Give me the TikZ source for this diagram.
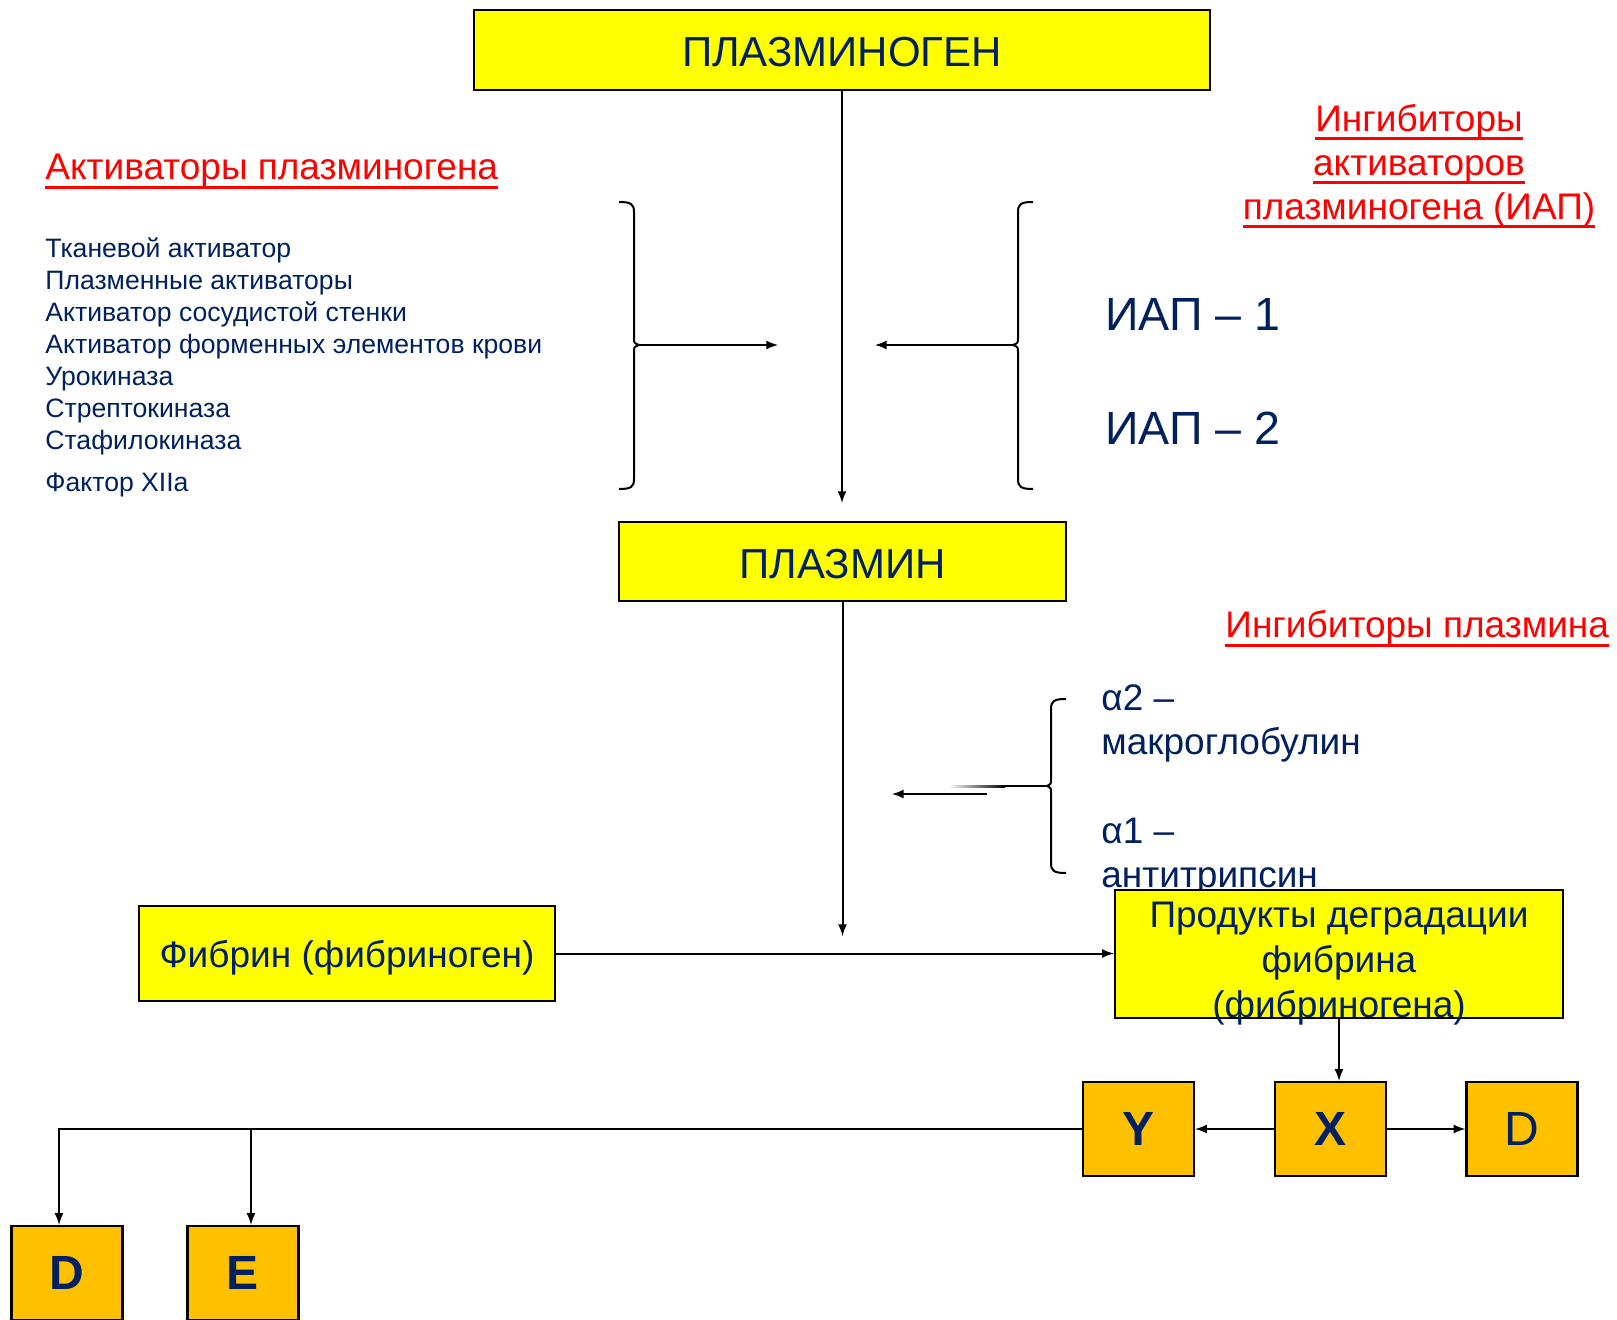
\documentclass[tikz,border=0pt]{standalone}
\usepackage{fontspec}
\setmainfont{Liberation Sans}
\usepackage{tikz}
\usetikzlibrary{arrows}
\definecolor{navy}{RGB}{0,32,96}
\definecolor{boxyellow}{RGB}{255,255,0}
\definecolor{boxorange}{RGB}{255,192,0}
\definecolor{headred}{RGB}{255,0,0}
\newcommand{\redul}[1]{\setbox0=\hbox{#1}\rlap{\rule[-4.5pt]{\wd0}{1.3pt}}\box0}
\tikzstyle{ybox} = [rectangle, draw=black, line width=1.2pt, fill=boxyellow, text=navy, inner sep=0pt]
\tikzstyle{obox} = [rectangle, draw=black, line width=1.2pt, fill=boxorange, text=navy, minimum width=55.5pt, minimum height=47pt, font=\fontsize{24}{28}\selectfont\bfseries]
\tikzstyle{arrow} = [line width=1pt,->,>=latex]
\tikzstyle{brace} = [line width=1pt]
\tikzstyle{listtext} = [anchor=base west, inner sep=0pt, text=navy, font=\fontsize{13.3}{16}\selectfont]
\tikzstyle{redhead} = [inner sep=0pt, text=headred, font=\fontsize{18.5}{22}\selectfont]
\tikzstyle{inhtext} = [anchor=base west, inner sep=0pt, text=navy, font=\fontsize{18.5}{22}\selectfont]

\begin{document}
\begin{tikzpicture}[x=0.5pt, y=-0.5pt]
\useasboundingbox (0,0) rectangle (1617,1320);

% Main chain
\node (plg) [ybox, minimum width=368pt, minimum height=40pt, text height=17pt, text depth=0pt, font=\fontsize{21}{25}\selectfont] at (842,50) {ПЛАЗМИНОГЕН};
\node (plm) [ybox, minimum width=223.5pt, minimum height=39.5pt, text height=17.5pt, text depth=0pt, font=\fontsize{21}{25}\selectfont] at (842.5,561.5) {ПЛАЗМИН};
\coordinate (plgend) at (842,503);
\coordinate (plmend) at (842.5,936);

% Activators
\node (acthead) [redhead, anchor=base west] at (45,180) {\redul{Активаторы плазминогена}};
\node (act1) [listtext] at (45,258) {Тканевой активатор};
\node (act2) [listtext] at (45,290) {Плазменные активаторы};
\node (act3) [listtext] at (45,322) {Активатор сосудистой стенки};
\node (act4) [listtext] at (45,354) {Активатор форменных элементов крови};
\node (act5) [listtext] at (45,386) {Урокиназа};
\node (act6) [listtext] at (45,418) {Стрептокиназа};
\node (act7) [listtext] at (45,450) {Стафилокиназа};
\node (act8) [listtext] at (45,492) {Фактор XIIa};

% Left brace
\draw [brace] (619,202) .. controls (631,202) and (634,204) .. (634,212) -- (634,338) .. controls (634,343) .. (639,345) .. controls (634,347) .. (634,352) -- (634,479) .. controls (634,487) and (631,489) .. (619,489);
\coordinate (ltip) at (639,345);
\coordinate (lend) at (778,345);

% Inhibitors of activators
\node (iaphead) [redhead, align=center] at (1419,166) {\redul{Ингибиторы}\\\redul{активаторов}\\\redul{плазминогена (ИАП)}};
\node (iap1) [inhtext, font=\fontsize{23.3}{28}\selectfont] at (1105,331) {ИАП – 1};
\node (iap2) [inhtext, font=\fontsize{23.3}{28}\selectfont] at (1105,445) {ИАП – 2};
\draw [brace] (1033,202) .. controls (1021,202) and (1018,204) .. (1018,212) -- (1018,338) .. controls (1018,343) .. (1013,345) .. controls (1018,347) .. (1018,352) -- (1018,479) .. controls (1018,487) and (1021,489) .. (1033,489);
\coordinate (rtip) at (1013,345);
\coordinate (rend) at (875,345);

% Plasmin inhibitors
\node (plihead) [redhead, anchor=base west] at (1225,638) {\redul{Ингибиторы плазмина}};
\node (alpha2) [inhtext] at (1101,710) {α2 –};
\node (macro) [inhtext] at (1101,754) {макроглобулин};
\node (alpha1) [inhtext] at (1101,843) {α1 –};
\node (antitr) [inhtext] at (1101,887) {антитрипсин};
\draw [brace] (1066,699) .. controls (1054,699) and (1051,701) .. (1051,709) -- (1051,779) .. controls (1051,784) .. (1047,786) .. controls (1051,788) .. (1051,793) -- (1051,863) .. controls (1051,871) and (1054,873) .. (1066,873);
\coordinate (ptip) at (1047,786);
\coordinate (pmid) at (1005,786);
\shade [left color=white, right color=black] (948,785) rectangle (1005,787);
\coordinate (pstart) at (987,794);
\coordinate (pend) at (892,794);

% Fibrin and degradation products
\node (fib) [ybox, minimum width=208pt, minimum height=47.5pt, text height=17.5pt, text depth=3.8pt, font=\fontsize{18.5}{22}\selectfont] at (347,953.5) {Фибрин (фибриноген)};
\node (prod) [ybox, minimum width=224pt, minimum height=64pt] at (1339,954) {};
\node (prodtext) [align=center, text=navy, inner sep=0pt, font=\fontsize{18.5}{22.5}\selectfont] at (1339,964) {Продукты деградации\\фибрина\\(фибриногена)};

% Fragments
\node (yfrag) [obox] at (1138.5,1129) {Y};
\node (xfrag) [obox] at (1330.5,1129) {X};
\node (dfrag) [obox, font=\fontsize{24}{28}\selectfont] at (1522,1129) {D};
\node (dleft) [obox] at (67,1273) {D};
\node (eleft) [obox] at (243,1273) {E};

% Arrows
\draw [arrow] (plg) -- (plgend);
\draw [arrow] (ltip) -- (lend);
\draw [arrow] (rtip) -- (rend);
\draw [brace] (ptip) -- (pmid);
\draw [arrow] (pstart) -- (pend);
\draw [arrow] (plm) -- (plmend);
\draw [arrow] (fib.east) -- (fib.east -| prod.west);
\draw [arrow] (prod.south) -- (prod.south |- xfrag.north);
\draw [arrow] (xfrag) -- (yfrag);
\draw [arrow] (xfrag) -- (dfrag);
\draw [arrow] (yfrag.west) -| ([xshift=-4pt]dleft.north);
\draw [arrow] ([xshift=4pt]eleft.north |- yfrag.west) -- ([xshift=4pt]eleft.north);

\end{tikzpicture}
\end{document}
